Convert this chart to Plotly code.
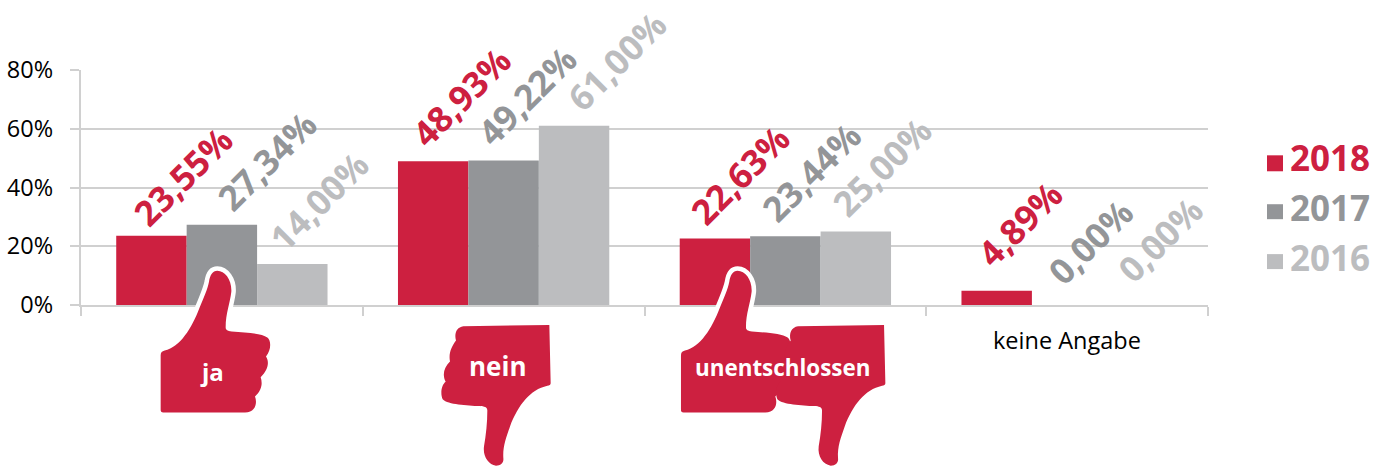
import plotly.graph_objects as go

categories = ["ja", "nein", "unentschlossen", "keine Angabe"]
years = ["2018", "2017", "2016"]
values_2018 = [23.55, 48.93, 22.63, 4.89]
values_2017 = [27.34, 49.22, 23.44, 0.00]
values_2016 = [14.00, 61.00, 25.00, 0.00]
y_ticks = [0, 20, 40, 60, 80]
y_tick_labels = ["0%\u00a0\u00a0", "20%\u00a0\u00a0", "40%\u00a0\u00a0", "60%\u00a0\u00a0", "80%\u00a0\u00a0"]

series = [values_2018, values_2017, values_2016]
colors = ["#CD2040", "#939598", "#BCBDBF"]
label_colors = ["#CD2040", "#939598", "#BCBDBF"]
FONT = "Open Sans"
W, H = 1389, 466
L, R, T, B = 81, 1208, 69.5, 305

# label offsets from the top centre of each bar (px), per series, per category
label_dx = [[32, 28, 25, 23], [45, 23, 26, 23], [27, 43, 26, 22]]
label_dy = [[60, 65, 64, 67], [64, 65, 65, 64], [63, 65, 65, 66]]


def px(x):
    return (x - L) / (R - L)


def py(y):
    return (B - y) / (B - T)


THUMB_UP = [
    ("M", 92, 480), ("L", 92, 316), ("C", 92, 308, 96, 304, 104, 302),
    ("C", 150, 292, 185, 235, 208, 175), ("C", 222, 140, 232, 120, 237, 95),
    ("C", 240, 75, 248, 62, 262, 62), ("C", 285, 62, 306, 90, 304, 125),
    ("C", 300, 160, 287, 190, 287, 232), ("C", 287, 240, 292, 243, 305, 245),
    ("C", 350, 248, 395, 250, 412, 263), ("C", 424, 272, 424, 300, 408, 320),
    ("C", 418, 335, 416, 358, 392, 382), ("C", 398, 400, 396, 420, 375, 440),
    ("C", 382, 458, 378, 488, 345, 488), ("L", 100, 488),
    ("C", 94, 488, 92, 486, 92, 480), ("Z",),
]
THUMB_DOWN = [
    ("M", 1258, 225), ("L", 1262, 400), ("C", 1262, 405, 1258, 407, 1252, 408),
    ("C", 1200, 420, 1165, 465, 1140, 530), ("C", 1128, 565, 1118, 590, 1120, 625),
    ("C", 1122, 640, 1112, 648, 1098, 648), ("C", 1075, 645, 1058, 620, 1062, 590),
    ("C", 1068, 555, 1072, 520, 1072, 482), ("C", 1072, 472, 1062, 470, 1050, 469),
    ("C", 1010, 466, 955, 465, 938, 448), ("C", 930, 430, 935, 405, 947, 396),
    ("C", 936, 375, 942, 352, 960, 335), ("C", 955, 310, 965, 290, 978, 272),
    ("C", 972, 250, 980, 232, 1000, 229), ("Z",),
]


def thumb_path(cmds, dx):
    out = []
    for c in cmds:
        pts = c[1:]
        coords = []
        for i in range(0, len(pts), 2):
            x = 130 + pts[i] / 3 + dx
            y = 250 + pts[i + 1] / 3
            coords.append(f"{px(x):.5f},{py(y):.5f}")
        out.append(c[0] + " ".join(coords))
    return " ".join(out)


thumbs = [
    thumb_path(THUMB_UP, 0),
    thumb_path(THUMB_DOWN, 0),
    thumb_path(THUMB_UP, 520.3),
    thumb_path(THUMB_DOWN, 334.7),
]

fig = go.Figure()
for name, vals, col in zip(years, series, colors):
    fig.add_bar(x=categories, y=vals, name=name, marker=dict(color=col, line_width=0))

shapes = []
for p in [thumbs[0], thumbs[2]]:
    shapes.append(dict(type="path", xref="paper", yref="paper", path=p,
                       fillcolor="#FFFFFF", line=dict(color="#FFFFFF", width=9), layer="above"))
for p in thumbs:
    shapes.append(dict(type="path", xref="paper", yref="paper", path=p,
                       fillcolor=colors[0], line=dict(width=0), layer="above"))

annotations = []
plot_w = R - L
bar_w = plot_w / 4 * 0.75 / 3
for s, vals in enumerate(series):
    for c, v in enumerate(vals):
        txt = f"{v:.2f}".replace(".", ",") + "%"
        annotations.append(dict(
            x=categories[c], y=v, xref="x", yref="y", text=txt, showarrow=False,
            textangle=-45, xanchor="center", yanchor="middle",
            xshift=(s - 1) * bar_w + label_dx[s][c], yshift=label_dy[s][c],
            font=dict(family=FONT, size=35, color=label_colors[s], weight=700),
        ))

# category names placed in or below the thumbs
cat_y = [372, 366, 368, 340]
cat_dx = [-10, -6, -2.5, 0]
cat_size = [24, 26, 22.4, 23.5]
cat_col = ["#FFFFFF", "#FFFFFF", "#FFFFFF", "#000000"]
cat_weight = [700, 700, 700, 400]
for i, c in enumerate(categories):
    annotations.append(dict(
        x=c, xref="x", y=py(cat_y[i]), yref="paper", text=c, showarrow=False,
        xshift=cat_dx[i], xanchor="center", yanchor="middle",
        font=dict(family=FONT, size=cat_size[i], color=cat_col[i], weight=cat_weight[i]),
    ))

# legend drawn by hand: each entry's text takes its series colour
leg_y = [157, 207, 257]
leg_sq = [(155, 171), (204, 219), (254, 269)]
for i, yr in enumerate(years):
    annotations.append(dict(
        x=px(1290), xref="paper", y=py(leg_y[i]), yref="paper", text=yr, showarrow=False,
        xanchor="left", yanchor="middle", xshift=-2,
        font=dict(family=FONT, size=35, color=colors[i], weight=700),
    ))
    shapes.append(dict(type="rect", xref="paper", yref="paper",
                       x0=px(1267), x1=px(1283), y0=py(leg_sq[i][1]), y1=py(leg_sq[i][0]),
                       fillcolor=colors[i], line=dict(width=0)))

fig.update_layout(
    width=W, height=H, autosize=False,
    margin=dict(l=L, r=W - R, t=T, b=H - B, pad=0, autoexpand=False),
    paper_bgcolor="#FFFFFF", plot_bgcolor="#FFFFFF",
    barmode="group", bargap=0.25, bargroupgap=0,
    showlegend=False, shapes=shapes, annotations=annotations,
    xaxis=dict(type="category", categoryorder="array", categoryarray=categories,
               range=[-0.5, 3.5], showgrid=False, showticklabels=False, automargin=False,
               showline=True, linecolor="#D0D0D0", linewidth=2, zeroline=False,
               ticks="outside", tickson="boundaries", ticklen=9, tickwidth=2, tickcolor="#D0D0D0"),
    yaxis=dict(range=[0, 80], tickvals=y_ticks, ticktext=y_tick_labels, automargin=False,
               showgrid=True, gridcolor="#D0D0D0", gridwidth=2, zeroline=False,
               showline=True, linecolor="#D0D0D0", linewidth=2,
               ticks="outside", ticklen=9, tickwidth=2, tickcolor="#D0D0D0",
               tickfont=dict(family=FONT, size=23.5, color="#000000")),
)

fig.write_html("out.html", config={"displayModeBar": False},
               post_script="document.body.style.margin='0';")
